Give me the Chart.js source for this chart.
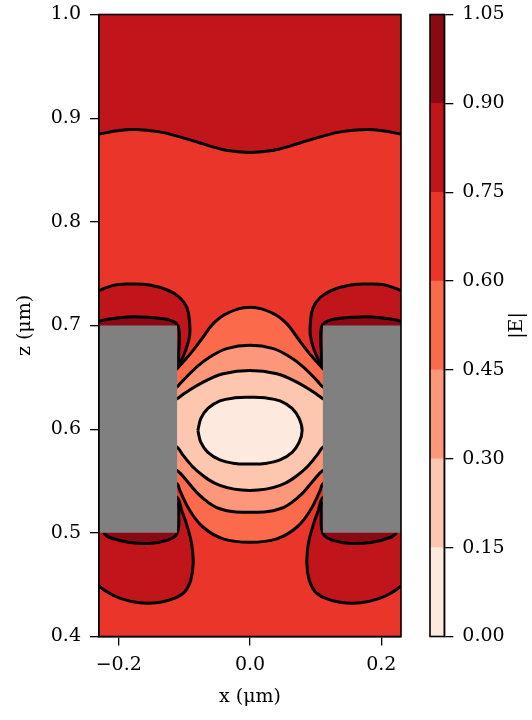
<!DOCTYPE html>
<html>
<head>
<meta charset="utf-8">
<script src="https://cdn.jsdelivr.net/npm/chart.js@4"></script>
<style>
  body { margin: 0; background: #fff; }
  #wrap { position: relative; width: 532px; height: 720px; }
  #field { position: absolute; left: 0; top: 0; }
  #cbar { position: absolute; left: 420px; top: 0; }
</style>
</head>
<body>
<div id="wrap">
  <canvas id="field" width="420" height="720"></canvas>
  <canvas id="cbar" width="112" height="720"></canvas>
</div>
<script>
// contour levels of |E| and the colour of each band (Reds)
const levels = [0, 0.15, 0.30, 0.45, 0.60, 0.75, 0.90, 1.05];
const bandColors = ['#fee9df', '#fdc6af', '#fc9879', '#fb6a4a', '#ea362a', '#c0151b', '#8a0912'];

// axis ranges and ticks
const xRange = [-0.23, 0.23];
const zRange = [0.4, 1.0];
const xTickVals = [-0.2, 0.0, 0.2];
const zTickVals = [0.4, 0.5, 0.6, 0.7, 0.8, 0.9, 1.0];
const cbarTickVals = [0, 0.15, 0.30, 0.45, 0.60, 0.75, 0.90, 1.05];

// whole domain (band 0.60 - 0.75)
const domainX = [-0.24, 0.24, 0.24, -0.24, -0.24];
const domainZ = [0.39, 0.39, 1.01, 1.01, 0.39];

// 0.75 contour across the top
const waveX = [-0.235, -0.2, -0.175, -0.14, -0.107, -0.076, -0.036, 0, 0.036, 0.076, 0.107, 0.14, 0.175, 0.2, 0.235];
const waveZ = [0.884, 0.888, 0.889, 0.887, 0.882, 0.876, 0.869, 0.867, 0.869, 0.876, 0.882, 0.887, 0.889, 0.888, 0.884];

// 0.75 lobes at the rod corners
const lobeTLX = [-0.240, -0.221, -0.2015, -0.181, -0.153, -0.125, -0.107, -0.096, -0.092, -0.092, -0.098, -0.105, -0.1115, -0.125, -0.198, -0.240, -0.240];
const lobeTLZ = [0.730, 0.736, 0.7395, 0.740, 0.739, 0.734, 0.727, 0.717, 0.703, 0.690, 0.676, 0.666, 0.661, 0.655, 0.655, 0.655, 0.730];
const lobeTRX = [0.240, 0.221, 0.2015, 0.181, 0.153, 0.125, 0.107, 0.096, 0.092, 0.092, 0.098, 0.105, 0.1115, 0.125, 0.198, 0.240, 0.240];
const lobeTRZ = [0.730, 0.736, 0.7395, 0.740, 0.739, 0.734, 0.727, 0.717, 0.703, 0.690, 0.676, 0.666, 0.661, 0.655, 0.655, 0.655, 0.730];
const lobeBLX = [-0.240, -0.122, -0.111, -0.104, -0.096, -0.089, -0.0865, -0.090, -0.099, -0.1145, -0.137, -0.168, -0.1985, -0.220, -0.2305, -0.240, -0.240];
const lobeBLZ = [0.531, 0.531, 0.534, 0.5215, 0.507, 0.490, 0.4715, 0.455, 0.4435, 0.437, 0.433, 0.4325, 0.437, 0.444, 0.449, 0.454, 0.531];
const lobeBRX = [0.240, 0.122, 0.111, 0.104, 0.096, 0.089, 0.0865, 0.090, 0.099, 0.1145, 0.137, 0.168, 0.1985, 0.220, 0.2305, 0.240, 0.240];
const lobeBRZ = [0.531, 0.531, 0.534, 0.5215, 0.507, 0.490, 0.4715, 0.455, 0.4435, 0.437, 0.433, 0.4325, 0.437, 0.444, 0.449, 0.454, 0.531];

// 0.90 slivers hugging the rods
const slivTLX = [-0.240, -0.221, -0.206, -0.176, -0.137, -0.119, -0.110, -0.1075, -0.1085, -0.1107, -0.122, -0.122, -0.240, -0.240];
const slivTLZ = [0.702, 0.7055, 0.707, 0.7085, 0.707, 0.7045, 0.700, 0.6905, 0.676, 0.6645, 0.6645, 0.690, 0.690, 0.702];
const slivTRX = [0.240, 0.221, 0.206, 0.176, 0.137, 0.119, 0.110, 0.1075, 0.1085, 0.1107, 0.122, 0.122, 0.240, 0.240];
const slivTRZ = [0.702, 0.7055, 0.707, 0.7085, 0.707, 0.7045, 0.700, 0.6905, 0.676, 0.6645, 0.6645, 0.690, 0.690, 0.702];
const slivBLX = [-0.223, -0.2137, -0.186, -0.153, -0.125, -0.113, -0.109, -0.1085, -0.110, -0.122, -0.122, -0.223, -0.223];
const slivBLZ = [0.4995, 0.4955, 0.491, 0.4897, 0.493, 0.4975, 0.504, 0.5167, 0.528, 0.528, 0.512, 0.512, 0.4995];
const slivBRX = [0.223, 0.2137, 0.186, 0.153, 0.125, 0.113, 0.109, 0.1085, 0.110, 0.122, 0.122, 0.223, 0.223];
const slivBRZ = [0.4995, 0.4955, 0.491, 0.4897, 0.493, 0.4975, 0.504, 0.5167, 0.528, 0.528, 0.512, 0.512, 0.4995];

// nested contours in the gap between the rods
const c60X = [-0.111, -0.102, -0.0866, -0.0713, -0.056, -0.0356, 0, 0.0356, 0.056, 0.0713, 0.0866, 0.102, 0.111, 0.13, 0.13, 0.111, 0.1069, 0.0916, 0.0713, 0.0408, 0, -0.0408, -0.0713, -0.0916, -0.1069, -0.111, -0.13, -0.13, -0.111];
const c60Z = [0.6584, 0.6647, 0.676, 0.6889, 0.7018, 0.7115, 0.7176, 0.7115, 0.7018, 0.6889, 0.676, 0.6647, 0.6584, 0.647, 0.555, 0.5473, 0.5409, 0.5215, 0.5054, 0.4942, 0.4909, 0.4942, 0.5054, 0.5215, 0.5409, 0.5473, 0.555, 0.647, 0.6584];
const c45X = [-0.111, -0.1018, -0.0814, -0.0611, -0.0356, 0, 0.0356, 0.0611, 0.0814, 0.1018, 0.111, 0.13, 0.13, 0.111, 0.0966, 0.0763, 0.0458, 0, -0.0458, -0.0763, -0.0966, -0.111, -0.13, -0.13, -0.111];
const c45Z = [0.6406, 0.6471, 0.6599, 0.6696, 0.6777, 0.6809, 0.6777, 0.6696, 0.6599, 0.6471, 0.6406, 0.635, 0.565, 0.5602, 0.5505, 0.536, 0.5232, 0.5199, 0.5232, 0.536, 0.5505, 0.5602, 0.565, 0.635, 0.6406];
const c30X = [-0.111, -0.0966, -0.0713, -0.0408, 0, 0.0408, 0.0713, 0.0966, 0.111, 0.13, 0.13, 0.111, 0.1018, 0.0814, 0.0458, 0, -0.0458, -0.0814, -0.1018, -0.111, -0.13, -0.13, -0.111];
const c30Z = [0.6294, 0.6358, 0.6454, 0.6535, 0.6567, 0.6535, 0.6454, 0.6358, 0.6294, 0.622, 0.59, 0.5827, 0.5747, 0.5602, 0.5457, 0.5409, 0.5457, 0.5602, 0.5747, 0.5827, 0.59, 0.622, 0.6294];
const c15X = [-0.0794, -0.0748, -0.0641, -0.0458, -0.0229, 0, 0.0229, 0.0458, 0.0641, 0.0748, 0.0794, 0.0748, 0.0641, 0.0458, 0.0229, 0, -0.0229, -0.0458, -0.0641, -0.0748, -0.0794];
const c15Z = [0.5988, 0.6103, 0.620, 0.6273, 0.6302, 0.6307, 0.6302, 0.6273, 0.620, 0.6103, 0.5988, 0.5872, 0.5776, 0.5703, 0.5669, 0.5664, 0.5669, 0.5703, 0.5776, 0.5872, 0.5988];

// the two rods
const rodLX = [-0.24, -0.111, -0.111, -0.24, -0.24];
const rodRX = [0.24, 0.111, 0.111, 0.24, 0.24];
const rodZ = [0.5, 0.5, 0.7, 0.7, 0.5];

Chart.defaults.font.family = '"DejaVu Serif", serif';
Chart.defaults.font.size = 19;
Chart.defaults.color = '#000';

const LINE_W = 3;

function pts(xs, zs) {
  return xs.map((x, i) => ({ x: x, y: zs[i] }));
}

// closed filled region; border = contour line
function region(xs, zs, color, line, smooth) {
  return {
    data: pts(xs, zs),
    showLine: true,
    fill: 'shape',
    backgroundColor: color,
    borderColor: line ? '#000' : color,
    borderWidth: line ? LINE_W : 0,
    pointRadius: 0,
    tension: smooth ? 0.4 : 0,
    clip: 0
  };
}

const layers = [
  region(domainX, domainZ, bandColors[4], false, false),
  {
    data: pts(waveX, waveZ),
    showLine: true,
    fill: 'end',
    backgroundColor: bandColors[5],
    borderColor: '#000',
    borderWidth: LINE_W,
    pointRadius: 0,
    tension: 0.4,
    clip: 0
  },
  region(lobeTLX, lobeTLZ, bandColors[5], true, true),
  region(lobeTRX, lobeTRZ, bandColors[5], true, true),
  region(lobeBLX, lobeBLZ, bandColors[5], true, true),
  region(lobeBRX, lobeBRZ, bandColors[5], true, true),
  region(slivTLX, slivTLZ, bandColors[6], true, true),
  region(slivTRX, slivTRZ, bandColors[6], true, true),
  region(slivBLX, slivBLZ, bandColors[6], true, true),
  region(slivBRX, slivBRZ, bandColors[6], true, true),
  region(c60X, c60Z, bandColors[3], true, true),
  region(c45X, c45Z, bandColors[2], true, true),
  region(c30X, c30Z, bandColors[1], true, true),
  region(c15X, c15Z, bandColors[0], true, true),
  region(rodLX, rodZ, '#808080', false, false),
  region(rodRX, rodZ, '#808080', false, false)
];
// first layer at the bottom
layers.forEach((d, i) => { d.order = layers.length - i; });

// black box around the plot area, drawn over the fills
const framePlugin = {
  id: 'frame',
  afterDatasetsDraw(chart) {
    const a = chart.chartArea;
    const ctx = chart.ctx;
    ctx.save();
    ctx.strokeStyle = '#000';
    ctx.lineWidth = 1.6;
    ctx.strokeRect(a.left, a.top, a.right - a.left, a.bottom - a.top);
    ctx.restore();
  }
};

function fmt(v, d) {
  const s = Math.abs(v).toFixed(d);
  return v < -1e-9 ? '\u2212' + s : s;
}

// fixed axis sizes, no extra room for overhanging labels
function fixWidth(w) {
  return s => { s.width = w; s.paddingTop = 0; s.paddingBottom = 0; };
}
function fixHeight(h) {
  return s => { s.height = h; s.paddingLeft = 0; s.paddingRight = 0; };
}

new Chart(document.getElementById('field'), {
  type: 'scatter',
  data: { datasets: layers },
  options: {
    responsive: false,
    animation: false,
    events: [],
    layout: { padding: { left: 0, right: 19, top: 14.5, bottom: 0 } },
    plugins: { legend: { display: false }, tooltip: { enabled: false } },
    scales: {
      x: {
        type: 'linear',
        min: xRange[0],
        max: xRange[1],
        afterBuildTicks: s => { s.ticks = xTickVals.map(v => ({ value: v })); },
        afterFit: fixHeight(83.5),
        ticks: { padding: 8, maxRotation: 0, callback: v => fmt(v, 1) },
        grid: { drawOnChartArea: false, tickLength: 9, color: '#000', lineWidth: 1.3 },
        border: { color: '#000', width: 1.6 },
        title: { display: true, text: 'x (μm)', padding: { top: 0, bottom: 12 } }
      },
      y: {
        type: 'linear',
        min: zRange[0],
        max: zRange[1],
        afterBuildTicks: s => { s.ticks = zTickVals.map(v => ({ value: v })); },
        afterFit: fixWidth(99),
        ticks: { padding: 9, callback: v => fmt(v, 1) },
        grid: { drawOnChartArea: false, tickLength: 9, color: '#000', lineWidth: 1.3 },
        border: { color: '#000', width: 1.6 },
        title: { display: true, text: 'z (μm)', padding: { top: 14, bottom: 0 } }
      }
    }
  },
  plugins: [framePlugin]
});

// colour bar label, reading bottom to top
const cbarLabel = {
  id: 'cbarLabel',
  afterDraw(chart) {
    const a = chart.chartArea;
    const ctx = chart.ctx;
    ctx.save();
    ctx.translate(97, (a.top + a.bottom) / 2);
    ctx.rotate(-Math.PI / 2);
    ctx.font = '19px "DejaVu Serif", serif';
    ctx.fillStyle = '#000';
    ctx.textAlign = 'center';
    ctx.textBaseline = 'middle';
    ctx.fillText('|E|', 0, 0);
    ctx.restore();
  }
};

new Chart(document.getElementById('cbar'), {
  type: 'bar',
  data: {
    labels: [''],
    datasets: bandColors.map((c, i) => ({
      data: [[levels[i], levels[i + 1]]],
      backgroundColor: c,
      borderWidth: 0,
      barPercentage: 1,
      categoryPercentage: 1,
      grouped: false
    }))
  },
  options: {
    responsive: false,
    animation: false,
    events: [],
    layout: { padding: { left: 10, right: 0, top: 14.5, bottom: 83.5 } },
    plugins: { legend: { display: false }, tooltip: { enabled: false } },
    scales: {
      x: { display: false },
      y: {
        position: 'right',
        min: levels[0],
        max: levels[levels.length - 1],
        afterBuildTicks: s => { s.ticks = cbarTickVals.map(v => ({ value: v })); },
        afterFit: fixWidth(87.7),
        ticks: { padding: 9, callback: v => v.toFixed(2) },
        grid: { drawOnChartArea: false, tickLength: 9, color: '#000', lineWidth: 1.3 },
        border: { color: '#000', width: 1.3 }
      }
    }
  },
  plugins: [framePlugin, cbarLabel]
});
</script>
</body>
</html>
